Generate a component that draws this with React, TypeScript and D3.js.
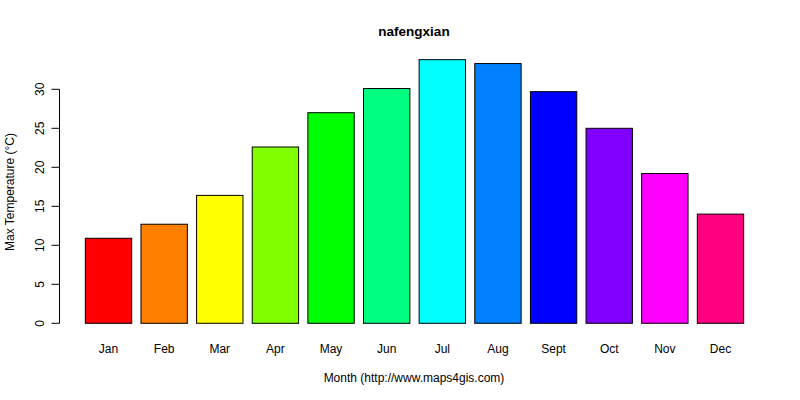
import React from "react";
import { scaleLinear } from "d3";

const months = ["Jan", "Feb", "Mar", "Apr", "May", "Jun", "Jul", "Aug", "Sept", "Oct", "Nov", "Dec"];
const maxTemp = [10.9, 12.7, 16.4, 22.6, 27.0, 30.1, 33.8, 33.3, 29.7, 25.0, 19.2, 14.0];
const colors = [
  "#FF0000", "#FF8000", "#FFFF00", "#80FF00", "#00FF00", "#00FF80",
  "#00FFFF", "#0080FF", "#0000FF", "#8000FF", "#FF00FF", "#FF0080"
];
const yTicks = [0, 5, 10, 15, 20, 25, 30];

const WIDTH = 800;
const HEIGHT = 400;
const FONT = "'Liberation Sans', Arial, sans-serif";

export default function App() {
  // R barplot units: bar width 1, space 0.2
  const xScale = scaleLinear().domain([-0.368, 14.968]).range([59, 770]);
  const yScale = scaleLinear().domain([0, 30]).range([323.3, 89.3]);

  const barLeft = (i: number) => 0.2 + i * 1.2;

  return (
    <svg width={WIDTH} height={HEIGHT} style={{ position: "absolute", left: 0, top: 0, background: "#fff" }} fontFamily={FONT}>
      <rect width={WIDTH} height={HEIGHT} fill="#fff" />
      <text x={414} y={36} textAnchor="middle" fontWeight="bold" fontSize={13.5}>
        nafengxian
      </text>

      {maxTemp.map((v, i) => (
        <rect
          key={months[i]}
          x={xScale(barLeft(i))}
          y={yScale(v)}
          width={xScale(barLeft(i) + 1) - xScale(barLeft(i))}
          height={yScale(0) - yScale(v)}
          fill={colors[i]}
          stroke="#000"
          strokeWidth={1}
        />
      ))}

      {months.map((m, i) => (
        <text key={m} x={xScale(barLeft(i) + 0.5)} y={353} textAnchor="middle" fontSize={12}>
          {m}
        </text>
      ))}

      <g>
        <line x1={59.5} x2={59.5} y1={yScale(0)} y2={yScale(30)} stroke="#000" />
        {yTicks.map(t => (
          <g key={t} transform={`translate(59.5, ${yScale(t)})`}>
            <line x1={-8} x2={0} stroke="#000" />
            <text transform="translate(-16, 0) rotate(-90)" textAnchor="middle" fontSize={12}>
              {t}
            </text>
          </g>
        ))}
      </g>

      <text x={414} y={382} textAnchor="middle" fontSize={12}>
        Month (http://www.maps4gis.com)
      </text>
      <text transform="translate(14, 192) rotate(-90)" textAnchor="middle" fontSize={12}>
        Max Temperature (°C)
      </text>
    </svg>
  );
}
